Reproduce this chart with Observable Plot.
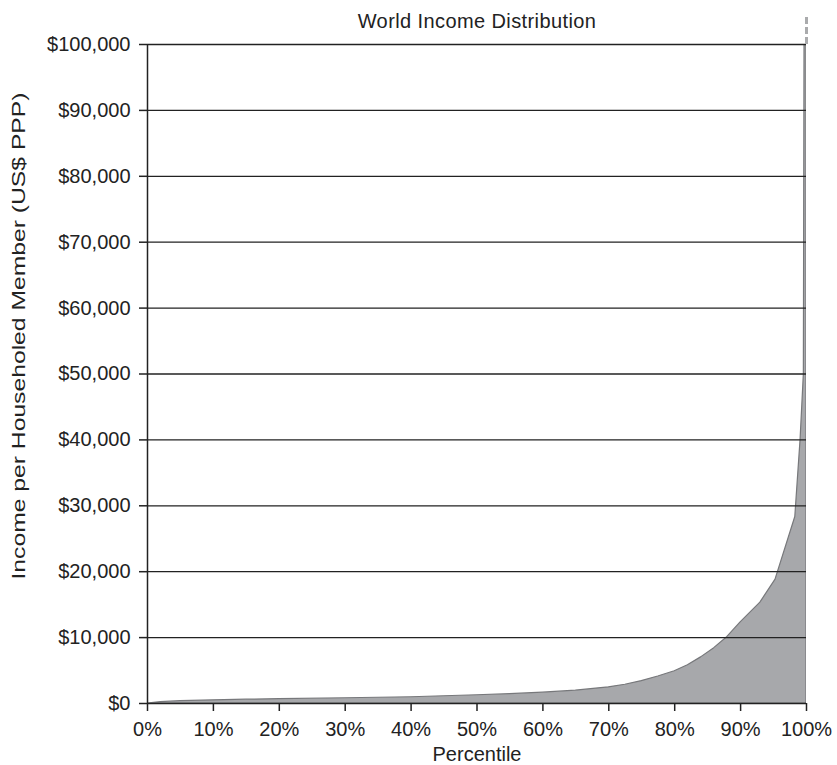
<!DOCTYPE html>
<html>
<head>
<meta charset="utf-8">
<script src="https://cdn.jsdelivr.net/npm/d3@7"></script>
<script src="https://cdn.jsdelivr.net/npm/@observablehq/plot@0.6"></script>
<style>
  html, body { margin: 0; padding: 0; background: #fff; }
  .ttl text { letter-spacing: 0.4px; }
</style>
</head>
<body>
<div id="chart"></div>
<script>
const title = "World Income Distribution";
const xLabel = "Percentile";
const yLabel = "Income per Householed Member (US$ PPP)";

const percentile = [0, 2, 5, 10, 15, 20, 30, 40, 50, 55, 60, 65, 70, 72.5, 75, 77.5, 80, 82, 84, 86, 88, 90, 93, 95.3, 98.3, 99.1, 99.6, 99.7, 100];
const income = [0, 200, 350, 480, 580, 650, 800, 950, 1250, 1420, 1650, 1950, 2450, 2850, 3400, 4100, 4900, 5800, 7000, 8400, 10100, 12300, 15300, 18800, 28300, 40000, 50000, 100000, 100000];

const xTicks = [0, 10, 20, 30, 40, 50, 60, 70, 80, 90, 100];
const yTicks = [0, 10000, 20000, 30000, 40000, 50000, 60000, 70000, 80000, 90000, 100000];
const yMax = 100000;
const dashedTop = 104500;

const data = percentile.map((p, i) => ({p, v: income[i]}));

const chart = Plot.plot({
  width: 837,
  height: 765,
  marginLeft: 147,
  marginRight: 31,
  marginTop: 44,
  marginBottom: 62,
  style: {fontFamily: "'Liberation Sans', Arial, Helvetica, sans-serif", fontSize: "20px", color: "#222", background: "#fff"},
  x: {domain: [0, 100]},
  y: {domain: [0, yMax]},
  marks: [
    Plot.areaY(data, {x: "p", y: "v", fill: "#a7a8ab", stroke: "#77787b", strokeWidth: 1.2, clip: true}),
    Plot.ruleY(yTicks.slice(1), {stroke: "#222", strokeWidth: 1.3}),
    Plot.ruleY([0], {stroke: "#222", strokeWidth: 1.5}),
    Plot.ruleX([0], {stroke: "#222", strokeWidth: 1.5}),
    Plot.ruleX([100], {y1: yMax, y2: dashedTop, stroke: "#aaabad", strokeWidth: 3, strokeDasharray: "7,3"}),
    Plot.axisX({ticks: xTicks, tickSize: 8, tickPadding: 10, tickFormat: d => d + "%", label: null, stroke: "#222", strokeWidth: 1.5, fontSize: 20}),
    Plot.axisY({ticks: yTicks, tickSize: 8, tickPadding: 9, tickFormat: d3.format("$,"), label: null, stroke: "#222", strokeWidth: 1.5, fontSize: 20}),
    Plot.text([title], {frameAnchor: "top", lineAnchor: "middle", dy: -23, fontSize: 20, fill: "#222", className: "ttl"}),
    Plot.text([xLabel], {frameAnchor: "bottom", lineAnchor: "middle", dy: 51, fontSize: 20, fill: "#222"}),
    Plot.text([yLabel], {frameAnchor: "left", textAnchor: "middle", lineAnchor: "middle", dx: -129, dy: -38, rotate: -90, fontSize: 19, fill: "#222", className: "ylab"})
  ]
});
document.getElementById("chart").appendChild(chart);
chart.querySelectorAll(".ylab text").forEach(t => {
  t.setAttribute("textLength", "487");
  t.setAttribute("lengthAdjust", "spacingAndGlyphs");
});
</script>
</body>
</html>
